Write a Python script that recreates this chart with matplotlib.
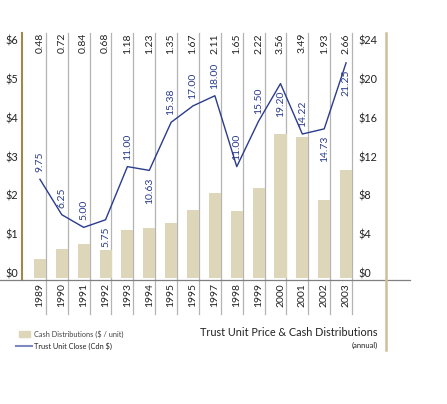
import matplotlib.pyplot as plt
from matplotlib.transforms import blended_transform_factory
from matplotlib.patches import Rectangle
from matplotlib.lines import Line2D

plt.rcParams['font.family'] = ['Lato', 'DejaVu Sans']

years = ['1989', '1990', '1991', '1992', '1993', '1994', '1995', '1995',
         '1997', '1998', '1999', '2000', '2001', '2002', '2003']
distributions = [0.48, 0.72, 0.84, 0.68, 1.18, 1.23, 1.35, 1.67,
                 2.11, 1.65, 2.22, 3.56, 3.49, 1.93, 2.66]
unit_close = [9.75, 6.25, 5.00, 5.75, 11.00, 10.63, 15.38, 17.00,
              18.00, 11.00, 15.50, 19.20, 14.22, 14.73, 21.25]
# where the price label sits relative to the point
label_above = [True, True, True, False, True, False, True, True,
               True, True, True, False, True, False, False]
left_ticks = [0, 1, 2, 3, 4, 5, 6]
right_ticks = [0, 4, 8, 12, 16, 20, 24]

BAR = '#ddd6b9'
LINE = '#2a3c8c'
GOLD = '#a08848'
TAN = '#cdbf98'
GRID = '#b4b4b4'
INK = '#222222'

W, H = 447, 404
fig = plt.figure(figsize=(W / 100, H / 100), dpi=100)

# the $ labels in the original sit on a slightly tighter scale than the bars
axl = fig.add_axes([22 / W, (H - 273) / H, 330 / W, 233 / H])
axl.set_ylim(0, 6)
axl.set_yticks(left_ticks, [f'${v}' for v in left_ticks])
axl.set_xticks([])
axl.tick_params(axis='y', length=0, pad=3, labelsize=7.8, labelcolor=INK)
for s in axl.spines.values():
    s.set_visible(False)
axl.patch.set_visible(False)
axr = axl.twinx()
axr.set_ylim(0, 24)
axr.set_yticks(right_ticks, [f'${v}' for v in right_ticks])
axr.tick_params(axis='y', length=0, pad=4.5, labelsize=7.8, labelcolor=INK)
for s in axr.spines.values():
    s.set_visible(False)

ax = fig.add_axes([22 / W, (H - 278) / H, 330 / W, 243 / H])
ax.set_xlim(-0.82, 14.27)
ax.set_ylim(0, 6)
ax.axis('off')

x = list(range(len(years)))
ax.bar(x, distributions, width=0.55, color=BAR, zorder=2)

bt = blended_transform_factory(ax.transData, ax.transAxes)

# column separators
for i in x:
    ax.plot([i + 0.27, i + 0.27], [-0.15, 1.008], transform=bt,
            color=GRID, lw=0.9, clip_on=False, zorder=1)

# left gold axis, baseline, right tan rule
ax.plot([0, 0], [-0.008, 1.008], transform=ax.transAxes, color=GOLD,
        lw=1.5, clip_on=False)
ax.plot([-22 / 330, 388 / 330], [-0.008, -0.008], transform=ax.transAxes,
        color='#808080', lw=0.9, clip_on=False)
ax.plot([364 / 330, 364 / 330], [-0.296, 1.008], transform=ax.transAxes,
        color=TAN, lw=1.8, clip_on=False)

ax2 = ax.twinx()
ax2.set_ylim(0, 24)
ax2.axis('off')
ax2.plot(x, unit_close, color=LINE, lw=1.0, zorder=3)

for i, v in enumerate(unit_close):
    up = label_above[i]
    ax2.annotate(f'{v:.2f}', (i, v), xytext=(0, 5 if up else -5),
                 textcoords='offset points', rotation=90, ha='center',
                 va='bottom' if up else 'top', fontsize=7.5, color=LINE)

# distributions along the top, years along the bottom
for i in x:
    ax.text(i, 1.008, f'{distributions[i]:.2f}', transform=bt, rotation=90,
            ha='center', va='top', fontsize=7.5, color=INK)
    ax.text(i, -0.022, years[i], transform=bt, rotation=90,
            ha='center', va='top', fontsize=7.5, color=INK)

# legend
fig.patches.append(Rectangle((19 / W, (H - 337) / H), 11 / W, 6 / H,
                             transform=fig.transFigure, color=BAR))
fig.lines.append(Line2D([16 / W, 32 / W], [(H - 346) / H] * 2,
                        transform=fig.transFigure, color='#7f88c0', lw=1.5))
fig.text(34 / W, (H - 334) / H, 'Cash Distributions ($ / unit)',
         fontsize=5.3, color='#444444', va='center')
fig.text(34 / W, (H - 346) / H, 'Trust Unit Close (Cdn $)',
         fontsize=5.3, color=INK, va='center')

fig.text(378 / W, (H - 332) / H, 'Trust Unit Price & Cash Distributions',
         fontsize=7.8, color=INK, ha='right', va='center')
fig.text(378 / W, (H - 345) / H, '(annual)',
         fontsize=5.5, color=INK, ha='right', va='center')

fig.savefig('out.png', dpi=100)
